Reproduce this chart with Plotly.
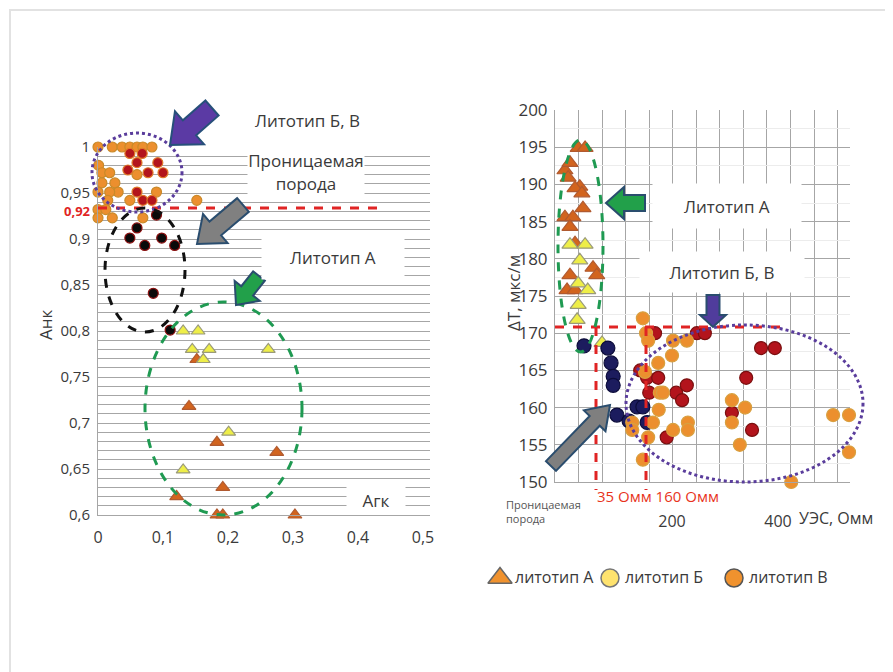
import plotly.graph_objects as go

W, H = 893, 672
OFF = 8  # page body margin of the rendered html

# ---------------- data: left chart (Агк vs Анк) ----------------
left_orange_x = [0, 0.022, 0.037, 0.049, 0.06, 0.069, 0.083, 0.001, 0.006, 0.018, 0.006, 0.026, 0.031,
                 0.018, 0, 0.015, 0.049, 0.09, 0, 0.012, 0, 0.022, 0.069, 0.06, 0.152]
left_orange_y = [1, 1, 1, 1, 1, 1, 1, 0.98, 0.972, 0.972, 0.961, 0.961, 0.951,
                 0.951, 0.951, 0.942, 0.942, 0.951, 0.932, 0.932, 0.923, 0.923, 0.923, 0.97, 0.942]
left_red_x = [0.049, 0.068, 0.06, 0.092, 0.046, 0.077, 0.1, 0.06, 0.069, 0.083]
left_red_y = [0.993, 0.993, 0.983, 0.983, 0.975, 0.972, 0.972, 0.951, 0.942, 0.942]
left_black_x = [0.09, 0.06, 0.049, 0.072, 0.098, 0.118, 0.085, 0.111]
left_black_y = [0.926, 0.912, 0.901, 0.893, 0.901, 0.893, 0.841, 0.801]
left_ytri_x = [0.131, 0.154, 0.145, 0.171, 0.162, 0.262, 0.201, 0.131]
left_ytri_y = [0.8, 0.8, 0.78, 0.78, 0.769, 0.78, 0.69, 0.649]
left_otri_x = [0.152, 0.14, 0.183, 0.275, 0.192, 0.121, 0.183, 0.192, 0.303]
left_otri_y = [0.769, 0.718, 0.679, 0.668, 0.63, 0.62, 0.6, 0.6, 0.6]

left_ytick_vals = [0.6, 0.65, 0.7, 0.75, 0.8, 0.85, 0.9, 0.95, 1.0]
left_ytick_text = ["0,6", "0,65", "0,7", "0,75", "00,8", "0,85", "0,9", "0,95", "1"]
left_xtick_vals = [0, 0.1, 0.2, 0.3, 0.4, 0.5]
left_xtick_text = ["0", "0,1", "0,2", "0,3", "0,4", "0,5"]

# ---------------- data: right chart (УЭС vs ΔT) ----------------
right_otri_x = [23, 36, -2, 7.5, 4, 26, 17, 30, 32, -2, 13, 7.5, 17, 7.5, 51, 58, 2, 17]
right_otri_y = [194.9, 194.9, 191.9, 192.9, 190.9, 189.7, 189.5, 188.8, 186.8, 185.6, 185.6, 184.3,
                182.1, 177.8, 178.8, 177.8, 175.8, 175.8]
right_ytri_x = [7.5, 36, 26, 23, 41, 23, 21, 68]
right_ytri_y = [181.9, 181.9, 179.8, 176.7, 175.8, 173.8, 171.8, 168.7]
right_navy_x = [34, 79, 85, 89, 89, 96, 119, 134, 145, 153]
right_navy_y = [168.3, 168, 166, 164.2, 163, 159, 158.2, 160.1, 160.1, 158]
right_red_x = [140, 153, 168, 174, 157, 208, 219, 228, 247, 262, 190, 313, 340, 351, 368, 394]
right_red_y = [165, 164, 170, 164, 162, 162, 161, 163, 170, 170, 156, 159.3, 164, 157, 168, 168]
right_orange_x = [145, 151, 155, 174, 177, 183, 175, 164, 155, 145, 149, 202, 200, 228, 230, 230, 202,
                  125, 125, 313, 313, 338, 328, 504, 534, 534, 425]
right_orange_y = [172, 170, 169, 166, 162, 162, 159.7, 158, 156, 153, 164.8, 169, 167, 169, 158, 157, 157,
                  158, 157, 161, 158, 160, 155, 159, 159, 154, 150]

right_ytick_vals = [150, 155, 160, 165, 170, 175, 180, 185, 190, 195, 200]
right_xtick_vals = [200, 400]
right_xtick_text = ["200", "400"]

legend_names = ["литотип А", "литотип Б", "литотип В"]

# ---------------- helpers (pixel -> paper) ----------------
def PX(x):
    return (x - OFF) / W


def PY(y):
    return 1 - (y - OFF) / H


def arrow_path(tail, tip, sw, hw, hl):
    tx, ty = tail
    hx, hy = tip
    dx, dy = hx - tx, hy - ty
    L = (dx * dx + dy * dy) ** 0.5
    ux, uy = dx / L, dy / L
    nx, ny = -uy, ux
    bx, by = hx - ux * hl, hy - uy * hl
    pts = [
        (tx + nx * sw / 2, ty + ny * sw / 2),
        (bx + nx * sw / 2, by + ny * sw / 2),
        (bx + nx * hw / 2, by + ny * hw / 2),
        (hx, hy),
        (bx - nx * hw / 2, by - ny * hw / 2),
        (bx - nx * sw / 2, by - ny * sw / 2),
        (tx - nx * sw / 2, ty - ny * sw / 2),
    ]
    return "M " + " L ".join(f"{PX(x):.5f},{PY(y):.5f}" for x, y in pts) + " Z"


FONT = "Open Sans, Noto Sans, DejaVu Sans, sans-serif"
TXT = "#3a3a3a"

C_ORANGE = "#ec8f2e"
C_ORANGE_LINE = "#c98a2a"
C_RED = "#b3141c"
C_RED_LINE = "#e07a2a"
C_BLACK = "#0a0a0a"
C_NAVY = "#1c1c5e"
C_YEL = "#eeee48"
C_YEL_LINE = "#9a9a7a"
C_OTRI = "#d2641e"
C_OTRI_LINE = "#b05a30"

fig = go.Figure()


def sc(x, y, xa, ya, symbol, size, color, lcolor, lw=1.2):
    fig.add_trace(go.Scatter(
        x=x, y=y, xaxis=xa, yaxis=ya, mode="markers", showlegend=False, cliponaxis=False,
        hoverinfo="skip",
        marker=dict(symbol=symbol, size=size, color=color, line=dict(color=lcolor, width=lw))))


# left chart marks
sc(left_orange_x, left_orange_y, "x", "y", "circle", 10, C_ORANGE, C_ORANGE_LINE)
sc(left_red_x, left_red_y, "x", "y", "circle", 10, C_RED, C_RED_LINE)
sc(left_black_x, left_black_y, "x", "y", "circle", 10, C_BLACK, "#8a1010")
sc(left_otri_x, left_otri_y, "x", "y", "triangle-up", 12, C_OTRI, C_OTRI_LINE)
sc(left_ytri_x, left_ytri_y, "x", "y", "triangle-up", 12, C_YEL, C_YEL_LINE)

# right chart marks
sc(right_otri_x, right_otri_y, "x2", "y2", "triangle-up", 14, C_OTRI, C_OTRI_LINE)
sc(right_ytri_x, right_ytri_y, "x2", "y2", "triangle-up", 14, C_YEL, C_YEL_LINE)
sc(right_navy_x, right_navy_y, "x2", "y2", "circle", 14, C_NAVY, "#0c0c3a")
sc(right_red_x, right_red_y, "x2", "y2", "circle", 13, C_RED, "#7a1010")
sc(right_orange_x, right_orange_y, "x2", "y2", "circle", 13, C_ORANGE, "#d8a040")

# legend: symbols drawn on a helper axis laid out in pixel units
leg_px = [500, 610, 734]
leg_style = [
    dict(symbol="triangle-up", size=21, color="#f0922e", line=dict(color="#666", width=1.5)),
    dict(symbol="circle", size=18, color="#ffe36e", line=dict(color="#777", width=1.5)),
    dict(symbol="circle", size=18, color="#f0922e", line=dict(color="#555", width=1.5)),
]
for xp, st in zip(leg_px, leg_style):
    fig.add_trace(go.Scatter(x=[xp], y=[578], xaxis="x3", yaxis="y3", mode="markers",
                             showlegend=False, hoverinfo="skip", cliponaxis=False, marker=st))

GRID = "#a6a6a6"

fig.update_layout(
    width=W, height=H, margin=dict(l=0, r=0, t=0, b=0, autoexpand=False),
    paper_bgcolor="white", plot_bgcolor="white",
    font=dict(family=FONT, color=TXT, size=14),
    showlegend=False,
    xaxis=dict(domain=[PX(98), PX(430)], range=[0, (430 - 98) / 650], showgrid=False,
               automargin=False, zeroline=False, showline=True, linecolor=GRID, linewidth=1,
               tickvals=left_xtick_vals, ticktext=left_xtick_text, ticks="",
               ticklabelstandoff=8, tickfont=dict(size=16, color=TXT)),
    yaxis=dict(domain=[PY(515), PY(147)], range=[0.6, 1.0], showgrid=True, gridcolor=GRID,
               automargin=False, gridwidth=1, zeroline=False, showline=True, linecolor=GRID,
               linewidth=1, tickvals=left_ytick_vals, ticktext=left_ytick_text, ticks="",
               ticklabelstandoff=4, tickfont=dict(size=15, color=TXT),
               minor=dict(dtick=0.01, tick0=0.6, showgrid=True, gridcolor=GRID, gridwidth=1)),
    xaxis2=dict(domain=[PX(555), PX(850)], range=[(555 - 566) / 0.53, (850 - 566) / 0.53],
                anchor="y2", automargin=False, showgrid=False, zeroline=False, showline=True,
                linecolor=GRID, tickvals=right_xtick_vals, ticktext=right_xtick_text, ticks="",
                ticklabelstandoff=25, tickfont=dict(size=16, color=TXT),
                minor=dict(tick0=(555 - 566) / 0.53, dtick=23.55 / 0.53, showgrid=True,
                           gridcolor=GRID, gridwidth=1)),
    yaxis2=dict(domain=[PY(482), PY(110)], range=[150, 200], anchor="x2", automargin=False,
                showgrid=True, gridcolor=GRID, gridwidth=1, zeroline=False, showline=True,
                linecolor=GRID, tickvals=right_ytick_vals, ticks="", ticklabelstandoff=3,
                tickfont=dict(size=17, color=TXT),
                minor=dict(dtick=2.5, showgrid=True, gridcolor="#ececec", gridwidth=1)),
    xaxis3=dict(domain=[PX(480), PX(860)], range=[480, 860], anchor="y3", visible=False,
                automargin=False),
    yaxis3=dict(domain=[PY(595), PY(560)], range=[595, 560], anchor="x3", visible=False,
                automargin=False),
)

shapes = []
# outer frame
shapes.append(dict(type="rect", xref="paper", yref="paper", x0=PX(10), x1=PX(891),
                   y0=PY(720), y1=PY(10), line=dict(color="#e2e2e2", width=2), layer="below"))


def ellipse(x0, y0, x1, y1, color, dash, width=3):
    shapes.append(dict(type="circle", xref="paper", yref="paper", x0=PX(x0), x1=PX(x1),
                       y0=PY(y1), y1=PY(y0), line=dict(color=color, dash=dash, width=width)))


def line(x0, y0, x1, y1, color, dash, width=3):
    shapes.append(dict(type="line", xref="paper", yref="paper", x0=PX(x0), x1=PX(x1),
                       y0=PY(y0), y1=PY(y1), line=dict(color=color, dash=dash, width=width)))


def arrow(tail, tip, sw, hw, hl, fill, outline):
    shapes.append(dict(type="path", xref="paper", yref="paper",
                       path=arrow_path(tail, tip, sw, hw, hl),
                       fillcolor=fill, line=dict(color=outline, width=2)))


# left chart decorations
line(98, 208, 380, 208, "#e02424", "dash", 3)
ellipse(92, 133, 182, 212, "#5a3d9c", "dot", 3)
ellipse(105, 208, 185, 332, "#111111", "dash", 3)
ellipse(145, 302, 302, 515, "#1f9a52", "dash", 3)
arrow((212, 108), (170, 145), 20, 44, 26, "#5b3aa4", "#27507a")
arrow((243, 205), (197, 244), 18, 38, 24, "#808080", "#2a4d6e")
arrow((259, 276), (236, 305), 15, 32, 18, "#22a04a", "#2a4d6e")

# right chart decorations
line(555, 327, 782, 327, "#e02424", "dash", 3)
line(596, 327, 596, 490, "#e02424", "dash", 3)
line(646, 327, 646, 490, "#e02424", "dash", 3)
ellipse(558, 140, 603, 352, "#1f9a52", "dash", 3)
ellipse(626, 325, 863, 482, "#5a3d9c", "dot", 3)
arrow((645, 203), (606, 203), 16, 32, 18, "#22a04a", "#2a4d6e")
arrow((713, 295), (713, 327), 13, 26, 12, "#503c9c", "#2a4d6e")
arrow((551, 466), (610, 405), 14, 30, 22, "#7f7f7f", "#2a4d6e")

fig.update_layout(shapes=shapes)

ann = []


def text(x, y, s, size=15, color=TXT, bg=None, bold=False, xanchor="center", angle=0,
         w=None, h=None, align="center"):
    d = dict(x=PX(x), y=PY(y), xref="paper", yref="paper", text=(f"<b>{s}</b>" if bold else s),
             showarrow=False, font=dict(size=size, color=color, family=FONT), xanchor=xanchor,
             yanchor="middle", textangle=angle, align=align)
    if bg:
        d.update(bgcolor=bg, borderpad=0)
    if w:
        d["width"] = w
    if h:
        d["height"] = h
    ann.append(d)


# left texts
text(307, 121, "Литотип Б, В", 17)
text(306, 172, "Проницаемая<br>порода", 17, bg="white", w=116, h=50)
text(333, 257, "Литотип А", 17, bg="white", w=142, h=44)
text(376, 500, "Агк", 17, bg="white", w=58, h=28)
text(93, 211, "0,92", 13, color="#e02424", bold=True, xanchor="right")
text(45, 325, "Анк", 17, angle=-90)

# right texts
text(727, 206, "Литотип А", 17, bg="white", w=148, h=44)
text(722, 272, "Литотип Б, В", 17, bg="white", w=164, h=40)
text(514, 293, "ΔT, мкс/м", 17, angle=-90)
text(658, 496, "35 Омм 160 Омм", 15, color="#e8341c")
text(504, 511, "Проницаемая<br>порода", 11, color="#555", xanchor="left", align="left")
text(836, 518, "УЭС, Омм", 16)

# legend texts
for xp, name in zip(leg_px, legend_names):
    text(xp + 13, 577, name, 16, xanchor="left")

fig.update_layout(annotations=ann)

fig.write_html("out.html")
